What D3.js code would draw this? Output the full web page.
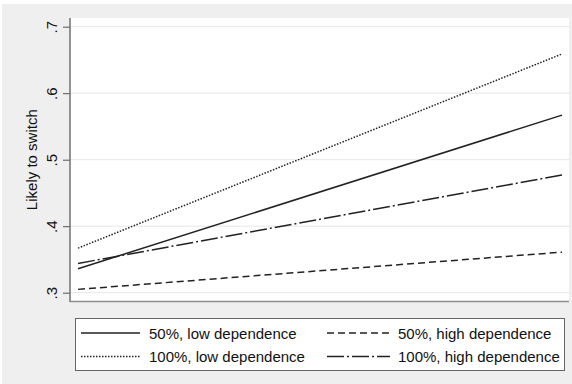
<!DOCTYPE html>
<html><head><meta charset="utf-8">
<script src="https://d3js.org/d3.v7.min.js"></script>
<style>body{margin:0;background:#fff}svg{display:block}</style>
</head><body>
<script>
const xValues = [0, 1];
const seriesNames = ["50%, low dependence", "50%, high dependence", "100%, low dependence", "100%, high dependence"];
const s50Low = [0.336, 0.567];
const s50High = [0.305, 0.361];
const s100Low = [0.367, 0.659];
const s100High = [0.344, 0.477];
const yTicks = [0.3, 0.4, 0.5, 0.6, 0.7];
const yTickLabels = [".3", ".4", ".5", ".6", ".7"];
const yTitle = "Likely to switch";

const W = 572, H = 384;
const svg = d3.select("body").append("svg").attr("width", W).attr("height", H);
svg.append("rect").attr("x", 2).attr("y", 4).attr("width", W - 2).attr("height", H - 4).attr("fill", "#efefef");

const plot = {l: 70, r: 569, t: 18, b: 301.5};
svg.append("rect").attr("x", plot.l).attr("y", plot.t).attr("width", plot.r - plot.l).attr("height", plot.b - plot.t).attr("fill", "#fff");

const x = d3.scaleLinear().domain([0, 1]).range([78, 562]);
const y = d3.scaleLinear().domain([0.3, 0.7]).range([292.7, 26.7]);

// gridlines
svg.append("g").selectAll("line").data(yTicks).join("line")
  .attr("x1", plot.l).attr("x2", plot.r)
  .attr("y1", d => y(d)).attr("y2", d => y(d))
  .attr("stroke", "#e6e6e6").attr("stroke-width", 1);

// y axis
const yAxis = d3.axisLeft(y).tickValues(yTicks).tickSize(7).tickFormat((d, i) => yTickLabels[i]);
const ga = svg.append("g").attr("transform", `translate(${plot.l},0)`).call(yAxis);
ga.select(".domain").remove();
ga.selectAll(".tick line").attr("stroke", "#555").attr("stroke-width", 1);
ga.selectAll(".tick text").attr("x", null).attr("dy", null)
  .attr("transform", "translate(-13.5,0) rotate(-90)")
  .attr("text-anchor", "middle")
  .attr("font-family", "Liberation Sans, Arial, sans-serif").attr("font-size", 15).attr("fill", "#111");
svg.append("line").attr("x1", plot.l).attr("x2", plot.l).attr("y1", plot.t).attr("y2", plot.b + 0.5)
  .attr("stroke", "#707070").attr("stroke-width", 1.5);
svg.append("line").attr("x1", plot.l).attr("x2", plot.r).attr("y1", plot.b).attr("y2", plot.b)
  .attr("stroke", "#909090").attr("stroke-width", 1.5);

svg.append("text").attr("transform", `translate(37,${(y(0.3)+y(0.7))/2}) rotate(-90)`)
  .attr("text-anchor", "middle").attr("font-family", "Liberation Sans, Arial, sans-serif")
  .attr("font-size", 15).attr("fill", "#111").text(yTitle);

const styles = [
  {data: s50Low, dash: null},
  {data: s50High, dash: "7,4"},
  {data: s100Low, dash: "1.5,1.5"},
  {data: s100High, dash: "17,3,2,3"}
];
const line = d3.line().x((d, i) => x(xValues[i])).y(d => y(d));
svg.append("g").selectAll("path").data(styles).join("path")
  .attr("d", d => line(d.data)).attr("fill", "none").attr("stroke", "#222")
  .attr("stroke-width", 1.5).attr("stroke-dasharray", d => d.dash);

// legend
svg.append("rect").attr("x", 75.5).attr("y", 318.5).attr("width", 489).attr("height", 52)
  .attr("fill", "#fff").attr("stroke", "#666").attr("stroke-width", 1);
const legendPos = [
  {lx: 81, tx: 149, cy: 333},
  {lx: 327, tx: 398, cy: 333},
  {lx: 81, tx: 149, cy: 356.5},
  {lx: 327, tx: 398, cy: 356.5}
];
const lg = svg.append("g").selectAll("g").data(styles).join("g");
lg.append("line").attr("x1", (d, i) => legendPos[i].lx).attr("x2", (d, i) => legendPos[i].lx + (i % 2 ? 63 : 59))
  .attr("y1", (d, i) => legendPos[i].cy).attr("y2", (d, i) => legendPos[i].cy)
  .attr("stroke", "#222").attr("stroke-width", 1.3).attr("stroke-dasharray", d => d.dash);
lg.append("text").attr("x", (d, i) => legendPos[i].tx).attr("y", (d, i) => legendPos[i].cy + 5.5)
  .attr("font-family", "Liberation Sans, Arial, sans-serif").attr("font-size", 15).attr("fill", "#111")
  .text((d, i) => seriesNames[i]);
</script>
</body></html>
